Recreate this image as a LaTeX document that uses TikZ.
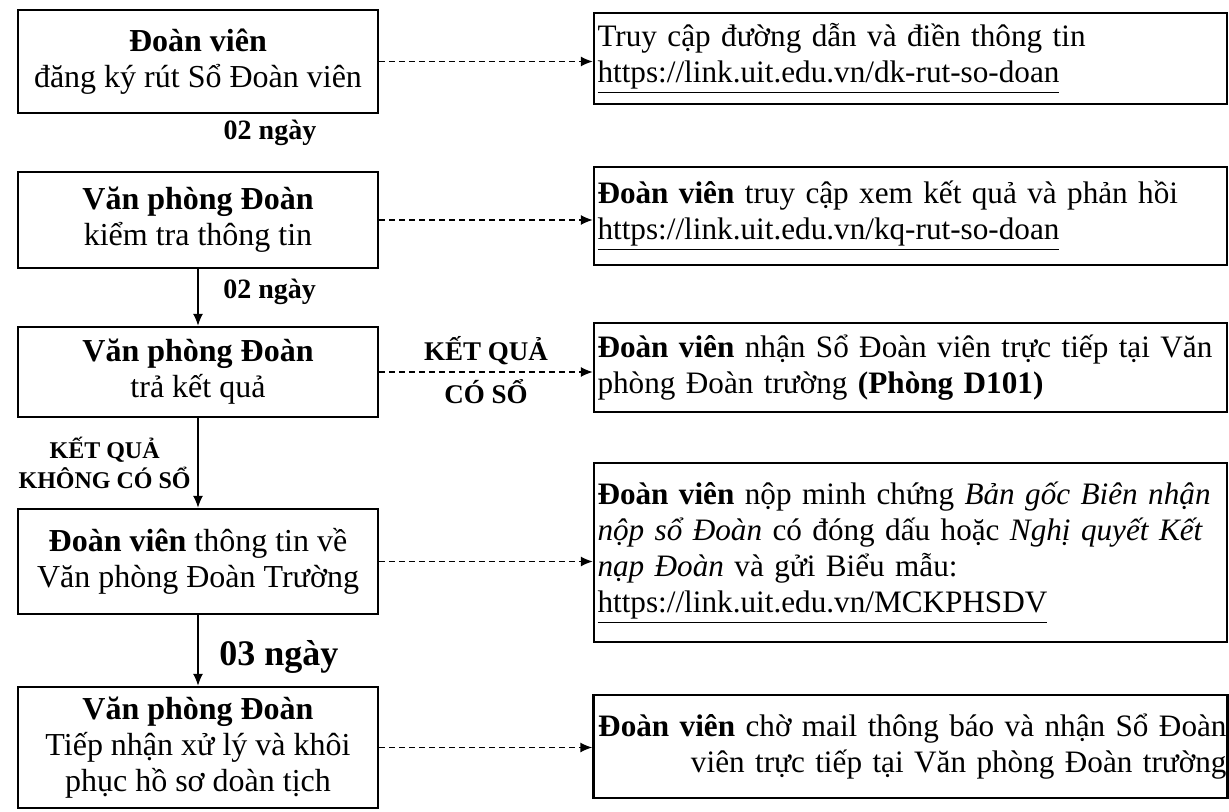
\documentclass[tikz,border=0pt]{standalone}
\usepackage{fontspec}
\setmainfont{Liberation Serif}
\usetikzlibrary{arrows.meta}

\begin{document}
\begin{tikzpicture}[x=0.5pt, y=-0.5pt,
	leftbox/.style={draw, line width=1.2pt, minimum width=180pt, inner sep=2pt, align=center, font=\fontsize{16}{18}\selectfont},
	rightbox/.style={draw, line width=1.2pt, minimum width=316.5pt, text width=313pt, inner sep=1.5pt, align=left, font=\fontsize{15.6}{18}\selectfont},
	dasharrow/.style={line width=0.7pt, dash pattern=on 3pt off 2pt, -{Latex[length=6pt, width=5pt]}},
	solidarrow/.style={line width=0.7pt, -{Latex[length=6pt, width=5pt]}},
	daylabel/.style={font=\bfseries\fontsize{14}{16}\selectfont},
	biglabel/.style={font=\bfseries\fontsize{18}{20}\selectfont},
	reslabel/.style={font=\bfseries\fontsize{13.5}{15}\selectfont}]
		%%%%% START %%%%%
		\useasboundingbox (0,0) rectangle (1229,812);
		
		% left column
		\node[leftbox, minimum height=51.5pt] (b1) at (198,61.5) {\textbf{Đoàn viên}\\đăng ký rút Sổ Đoàn viên};
		\node[leftbox, minimum height=48pt] (b2) at (198,220) {\textbf{Văn phòng Đoàn}\\kiểm tra thông tin};
		\node[leftbox, minimum height=45pt] (b3) at (198,372) {\textbf{Văn phòng Đoàn}\\trả kết quả};
		\node[leftbox, minimum height=52.5pt] (b4) at (198,561.5) {\textbf{Đoàn viên} thông tin về\\Văn phòng Đoàn Trường};
		\node[leftbox, minimum height=60.5pt] (b5) at (198,747.5) {\textbf{Văn phòng Đoàn}\\Tiếp nhận xử lý và khôi\\phục hồ sơ doàn tịch};
		
		% right column
		\node[rightbox, minimum height=45.5pt] (r1) at (910.5,58.5) {Truy cập đường dẫn và điền thông tin\\\underline{https://link.uit.edu.vn/dk-rut-so-doan}};
		\node[rightbox, minimum height=49pt] (r2) at (910.5,216) {\textbf{Đoàn viên} truy cập xem kết quả và phản hồi\\\underline{https://link.uit.edu.vn/kq-rut-so-doan}};
		\node[rightbox, minimum height=44.5pt] (r3) at (910.5,367.5) {\textbf{Đoàn viên} nhận Sổ Đoàn viên trực tiếp tại Văn\\phòng Đoàn trường \textbf{(Phòng D101)}};
		\node[rightbox, minimum height=89.5pt] (r4) at (910.5,552.5) {\textbf{Đoàn viên} nộp minh chứng \textit{Bản gốc Biên nhận}\\\textit{nộp sổ Đoàn} có đóng dấu hoặc \textit{Nghị quyết Kết}\\\textit{nạp Đoàn} và gửi Biểu mẫu:\\\underline{https://link.uit.edu.vn/MCKPHSDV}};
		\node[rightbox, align=right, text width=316pt, inner sep=0.5pt, minimum height=51.5pt] (r5) at (910.5,746.5) {\textbf{Đoàn viên} chờ mail thông báo và nhận Sổ Đoàn\\viên trực tiếp tại Văn phòng Đoàn trường};
		
		\node[daylabel] (d1) at (270,133) {02 ngày};
		
		% flow down
		\draw[solidarrow] (b2) -- node[daylabel, right, xshift=9pt, yshift=3pt] {02 ngày} (b3);
		\draw[solidarrow] (b3) -- node[left, align=center, font=\bfseries\fontsize{12}{15}\selectfont] {KẾT QUẢ\\KHÔNG CÓ SỔ} (b4);
		\draw[solidarrow] (b4) -- node[biglabel, right, xshift=7pt, yshift=-3pt] {03 ngày} (b5);
		
		% dashed links
		\draw[dasharrow] (b1.east) -- (b1.east -| r1.west);
		\draw[dasharrow] (b2.east) -- (b2.east -| r2.west);
		\draw[dasharrow] (b3.east) -- node[reslabel, above] {KẾT QUẢ} node[reslabel, below] {CÓ SỔ} (b3.east -| r3.west);
		\draw[dasharrow] (b4.east) -- (b4.east -| r4.west);
		\draw[dasharrow] (b5.east) -- (b5.east -| r5.west);
		
		%%%%% END %%%%%
	\end{tikzpicture}
\end{document}
